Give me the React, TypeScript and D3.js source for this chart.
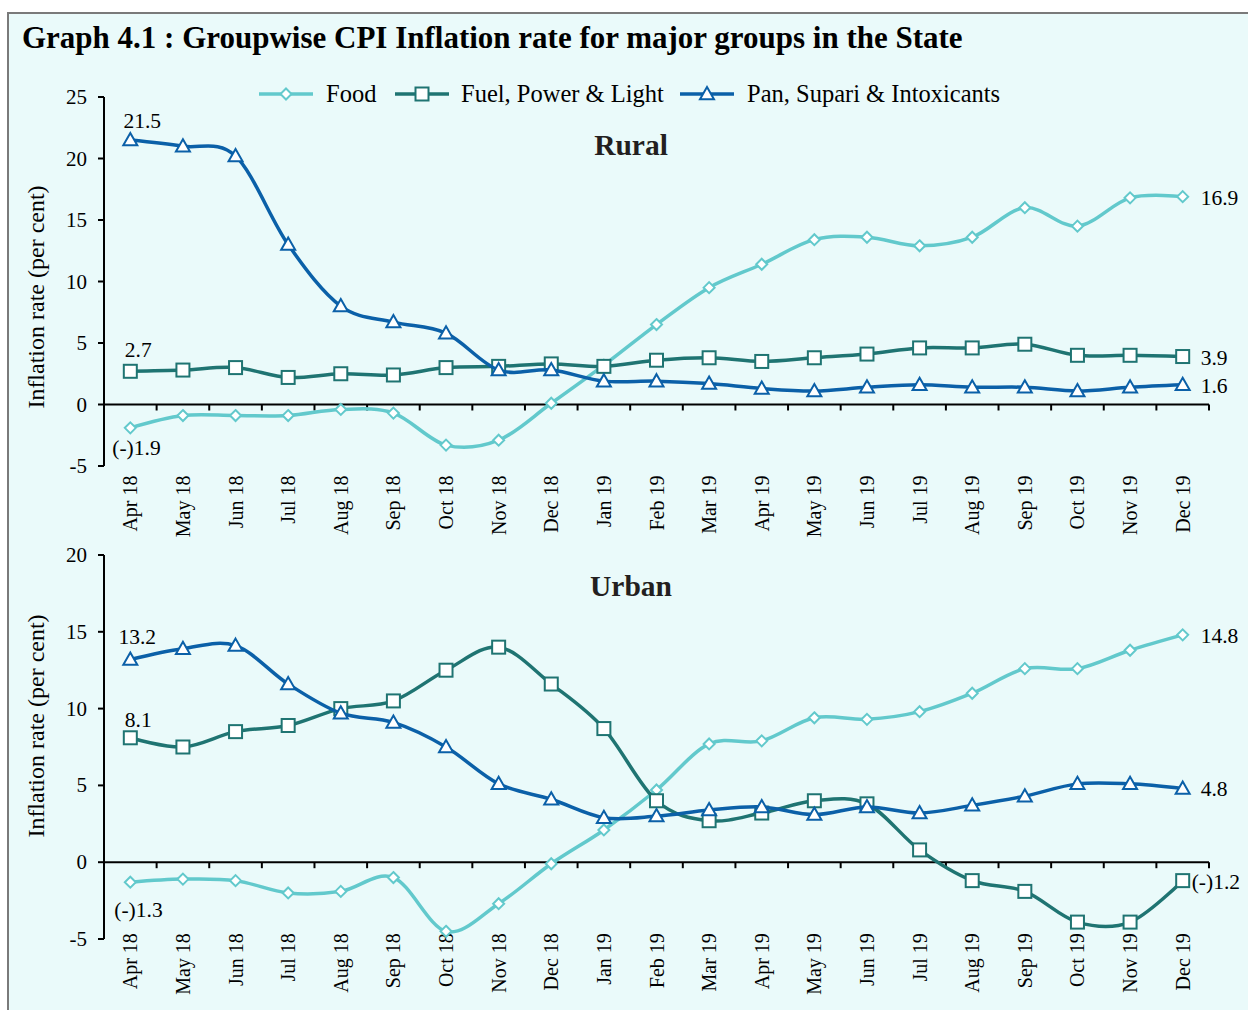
import React from 'react';
import * as d3 from 'd3';

const months = [
  'Apr 18', 'May 18', 'Jun 18', 'Jul 18', 'Aug 18', 'Sep 18', 'Oct 18', 'Nov 18', 'Dec 18',
  'Jan 19', 'Feb 19', 'Mar 19', 'Apr 19', 'May 19', 'Jun 19', 'Jul 19', 'Aug 19', 'Sep 19',
  'Oct 19', 'Nov 19', 'Dec 19',
];

// Rural
const ruralFood = [-1.9, -0.9, -0.9, -0.9, -0.4, -0.7, -3.3, -2.9, 0.1, 3.2, 6.5, 9.5, 11.4, 13.4, 13.6, 12.9, 13.6, 16.0, 14.5, 16.8, 16.9];
const ruralFuel = [2.7, 2.8, 3.0, 2.2, 2.5, 2.4, 3.0, 3.1, 3.3, 3.1, 3.6, 3.8, 3.5, 3.8, 4.1, 4.6, 4.6, 4.9, 4.0, 4.0, 3.9];
const ruralPan = [21.5, 21.0, 20.2, 13.0, 8.0, 6.7, 5.8, 2.8, 2.8, 1.9, 1.9, 1.7, 1.3, 1.1, 1.4, 1.6, 1.4, 1.4, 1.1, 1.4, 1.6];

// Urban
const urbanFood = [-1.3, -1.1, -1.2, -2.0, -1.9, -1.0, -4.5, -2.7, -0.1, 2.1, 4.7, 7.7, 7.9, 9.4, 9.3, 9.8, 11.0, 12.6, 12.6, 13.8, 14.8];
const urbanFuel = [8.1, 7.5, 8.5, 8.9, 10.0, 10.5, 12.5, 14.0, 11.6, 8.7, 4.0, 2.7, 3.2, 4.0, 3.8, 0.8, -1.2, -1.9, -3.9, -3.9, -1.2];
const urbanPan = [13.2, 13.9, 14.1, 11.6, 9.7, 9.1, 7.5, 5.1, 4.1, 2.9, 3.0, 3.4, 3.6, 3.1, 3.6, 3.2, 3.7, 4.3, 5.1, 5.1, 4.8];

const ruralTicks = [-5, 0, 5, 10, 15, 20, 25];
const urbanTicks = [-5, 0, 5, 10, 15, 20];

const seriesNames = ['Food', 'Fuel, Power & Light', 'Pan, Supari & Intoxicants'];
const colors = ['#62c9cc', '#1f7472', '#0b60a8'];
const shapes = ['diamond', 'square', 'triangle'];

const FONT = '"Liberation Serif", "Times New Roman", serif';
const W = 1248;
const H = 1010;

const Marker = ({ shape, x, y, color }) => {
  if (shape === 'diamond') {
    const r = 5.5;
    return <path d={`M${x},${y - r}L${x + r},${y}L${x},${y + r}L${x - r},${y}Z`} fill="#fff" stroke={color} strokeWidth={2} />;
  }
  if (shape === 'square') {
    const r = 6.5;
    return <rect x={x - r} y={y - r} width={2 * r} height={2 * r} fill="#fff" stroke={color} strokeWidth={2} />;
  }
  const r = 7;
  return <path d={`M${x},${y - r}L${x + r},${y + r * 0.75}L${x - r},${y + r * 0.75}Z`} fill="#fff" stroke={color} strokeWidth={2} />;
};

const Panel = ({ title, titleY, series, domain, range, ticks, labels, axisTitleY }) => {
  const x = d3.scaleBand().domain(months).range([104, 1209]);
  const bw = x.bandwidth();
  const cx = (m) => x(m) + bw / 2;
  const y = d3.scaleLinear().domain(domain).range(range);
  const y0 = y(0);
  const line = d3.line<number>()
    .x((_, i) => cx(months[i]))
    .y((d) => y(d))
    .curve(d3.curveCardinal.tension(0));

  return (
    <g>
      <text x={631} y={titleY} textAnchor="middle" fontFamily={FONT} fontWeight="bold" fontSize={29.5} fill="#231f20">{title}</text>
      {/* y axis */}
      <line x1={104} x2={104} y1={range[1]} y2={range[0]} stroke="#000" strokeWidth={2} />
      {ticks.map((t) => (
        <g key={t}>
          <line x1={98} x2={104} y1={y(t)} y2={y(t)} stroke="#000" strokeWidth={2} />
          <text x={87} y={y(t) + 7} textAnchor="end" fontFamily={FONT} fontSize={21} fill="#000">{t}</text>
        </g>
      ))}
      <text transform={`translate(44,${axisTitleY}) rotate(-90)`} textAnchor="middle" fontFamily={FONT} fontSize={24} fill="#000">Inflation rate (per cent)</text>
      {/* x axis */}
      <line x1={104} x2={1209} y1={y0} y2={y0} stroke="#000" strokeWidth={2} />
      {months.map((m) => (
        <line key={m} x1={x(m) + bw} x2={x(m) + bw} y1={y0} y2={y0 + 6} stroke="#000" strokeWidth={2} />
      ))}
      {months.map((m) => (
        <text key={m} transform={`translate(${cx(m) + 7},${y0 + 71}) rotate(-90)`} textAnchor="end" fontFamily={FONT} fontSize={20} fill="#000">{m}</text>
      ))}
      {/* series */}
      {series.map((s, k) => (
        <g key={k}>
          <path d={line(s)} fill="none" stroke={colors[k]} strokeWidth={3.5} />
          {s.map((v, i) => (
            <Marker key={i} shape={shapes[k]} x={cx(months[i])} y={y(v)} color={colors[k]} />
          ))}
        </g>
      ))}
      {labels.map((l, i) => {
        const v = series[l.s][l.i];
        return (
          <text key={i} x={cx(months[l.i]) + l.dx} y={y(v) + l.dy} textAnchor={l.anchor} fontFamily={FONT} fontSize={21.5} fill="#000">{l.text}</text>
        );
      })}
    </g>
  );
};

const ruralLabels = [
  { text: '21.5', s: 2, i: 0, dx: 12, dy: -12, anchor: 'middle' },
  { text: '2.7', s: 1, i: 0, dx: 8, dy: -14, anchor: 'middle' },
  { text: '(-)1.9', s: 0, i: 0, dx: -18, dy: 27, anchor: 'start' },
  { text: '16.9', s: 0, i: 20, dx: 18, dy: 8, anchor: 'start' },
  { text: '3.9', s: 1, i: 20, dx: 18, dy: 8, anchor: 'start' },
  { text: '1.6', s: 2, i: 20, dx: 18, dy: 8, anchor: 'start' },
];

const urbanLabels = [
  { text: '13.2', s: 2, i: 0, dx: 7, dy: -15, anchor: 'middle' },
  { text: '8.1', s: 1, i: 0, dx: 8, dy: -11, anchor: 'middle' },
  { text: '(-)1.3', s: 0, i: 0, dx: -16, dy: 35, anchor: 'start' },
  { text: '14.8', s: 0, i: 20, dx: 18, dy: 8, anchor: 'start' },
  { text: '4.8', s: 2, i: 20, dx: 18, dy: 8, anchor: 'start' },
  { text: '(-)1.2', s: 1, i: 20, dx: 9, dy: 8, anchor: 'start' },
];

const legendX = [259, 395, 680];
const legendText = [326, 461, 747];

export default function App() {
  return (
    <div style={{ position: 'absolute', left: 0, top: 0 }}>
      <svg width={W} height={H} style={{ display: 'block' }}>
        <rect x={8} y={13} width={W + 20} height={H + 20} fill="#eafafa" stroke="#7a7a7a" strokeWidth={2} />
        <text x={22} y={48} fontFamily={FONT} fontWeight="bold" fontSize={31} fill="#000">
          Graph 4.1 : Groupwise CPI Inflation rate for major groups in the State
        </text>
        {seriesNames.map((n, k) => (
          <g key={n}>
            <line x1={legendX[k]} x2={legendX[k] + 54} y1={94} y2={94} stroke={colors[k]} strokeWidth={3.5} />
            <Marker shape={shapes[k]} x={legendX[k] + 27} y={94} color={colors[k]} />
            <text x={legendText[k]} y={102} fontFamily={FONT} fontSize={24.5} fill="#000">{n}</text>
          </g>
        ))}
        <Panel
          title="Rural"
          titleY={155}
          series={[ruralFood, ruralFuel, ruralPan]}
          domain={[-5, 25]}
          range={[466, 97]}
          ticks={ruralTicks}
          labels={ruralLabels}
          axisTitleY={297}
        />
        <Panel
          title="Urban"
          titleY={596}
          series={[urbanFood, urbanFuel, urbanPan]}
          domain={[-5, 20]}
          range={[939, 555]}
          ticks={urbanTicks}
          labels={urbanLabels}
          axisTitleY={726}
        />
      </svg>
    </div>
  );
}
